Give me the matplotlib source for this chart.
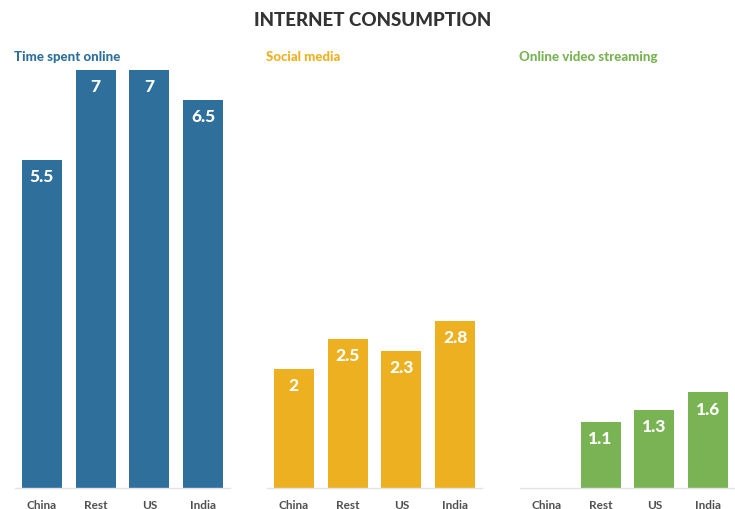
import matplotlib
matplotlib.use("Agg")
import matplotlib.pyplot as plt

categories = ["China", "Rest", "US", "India"]
time_online = [5.5, 7, 7, 6.5]
social_media = [2, 2.5, 2.3, 2.8]
video_streaming = [0, 1.1, 1.3, 1.6]
panel_titles = ["Time spent online", "Social media", "Online video streaming"]
title = "INTERNET CONSUMPTION"

colors = ["#2F6F9B", "#EDB021", "#79B353"]
series = [time_online, social_media, video_streaming]

plt.rcParams['font.family'] = ['Lato', 'DejaVu Sans']

fig = plt.figure(figsize=(7.35, 5.10), dpi=100)
lefts = [15/735, 267/735, 520/735]
w = 215/735
bottom = 21/510
height = 418/510

fig.text(373/735, 1 - 21/510, title, ha='center', va='center',
         fontsize=13.5, fontweight='black', color='#333333')

for i in range(3):
    ax = fig.add_axes([lefts[i], bottom, w, height])
    vals = series[i]
    x = list(range(len(categories)))
    bars = ax.bar(x, vals, width=0.745, color=colors[i])
    ax.set_xlim(-0.5, 3.5)
    ax.set_ylim(0, 7)
    for b, v in zip(bars, vals):
        if v > 0:
            ax.text(b.get_x() + b.get_width()/2, v - 0.27, f"{v:g}", ha='center', va='center',
                    fontsize=12.5, fontweight='black', color='white')
    ax.set_xticks(x)
    ax.set_xticklabels(categories, fontsize=8.5, fontweight='bold', color='#505050')
    ax.tick_params(axis='x', length=0, pad=8)
    ax.set_yticks([])
    for s in ['top', 'right', 'left']:
        ax.spines[s].set_visible(False)
    ax.spines['bottom'].set_color('#e3e3e3')
    ax.spines['bottom'].set_linewidth(1)
    fig.text(lefts[i] - 1/735, 1 - 57/510, panel_titles[i], ha='left', va='center',
             fontsize=9.5, fontweight='black', color=colors[i])

fig.savefig("out.png", dpi=100)
